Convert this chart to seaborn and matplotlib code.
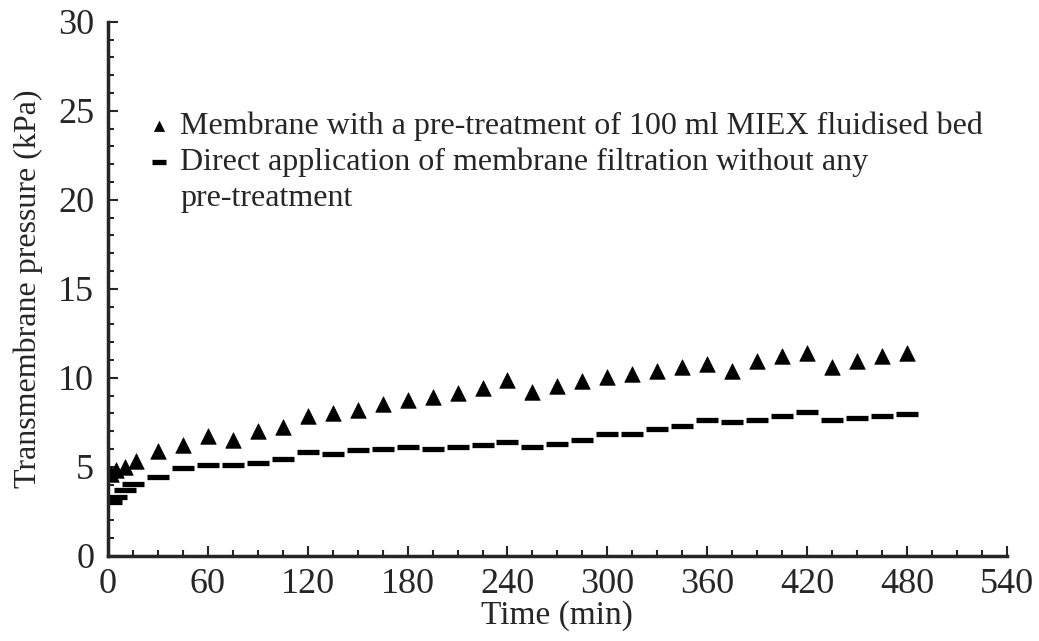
#!/usr/bin/env python3
"""Transmembrane pressure over time, with and without MIEX pre-treatment."""

import matplotlib
matplotlib.use("Agg")
import matplotlib.pyplot as plt
import pandas as pd
import seaborn as sns
from matplotlib.lines import Line2D
from matplotlib.ticker import MultipleLocator

# Membrane with MIEX fluidised bed pre-treatment (triangles)
miex_time = [2, 5, 10, 17, 30, 45, 60, 75, 90, 105, 120, 135, 150, 165, 180, 195,
             210, 225, 240, 255, 270, 285, 300, 315, 330, 345, 360, 375, 390, 405,
             420, 435, 450, 465, 480]
miex_tmp = [4.6, 4.8, 5.0, 5.3, 5.9, 6.2, 6.7, 6.5, 7.0, 7.25, 7.85, 8.0, 8.2, 8.5,
            8.75, 8.9, 9.15, 9.4, 9.9, 9.2, 9.55, 9.8, 10.05, 10.2, 10.4, 10.6, 10.8,
            10.4, 10.95, 11.2, 11.4, 10.6, 10.95, 11.2, 11.4]

# Direct membrane filtration, no pre-treatment (dashes)
direct_time = [2, 5, 10, 15, 30, 45, 60, 75, 90, 105, 120, 135, 150, 165, 180, 195,
               210, 225, 240, 255, 270, 285, 300, 315, 330, 345, 360, 375, 390, 405,
               420, 435, 450, 465, 480]
direct_tmp = [3.0, 3.3, 3.7, 4.05, 4.4, 4.95, 5.1, 5.1, 5.2, 5.45, 5.85, 5.7, 5.95,
              6.0, 6.1, 6.0, 6.1, 6.2, 6.4, 6.1, 6.3, 6.5, 6.85, 6.85, 7.1, 7.3, 7.65,
              7.5, 7.65, 7.85, 8.1, 7.65, 7.75, 7.85, 7.95]

LABEL_MIEX = "Membrane with a pre-treatment of 100 ml MIEX fluidised bed"
LABEL_DIRECT = "Direct application of membrane filtration without any"
LABEL_DIRECT_CONT = "pre-treatment"


def main():
    miex = pd.DataFrame({"time": miex_time, "tmp": miex_tmp})
    direct = pd.DataFrame({"time": direct_time, "tmp": direct_tmp})

    sns.set_style("ticks")
    plt.rcParams["font.family"] = ["Liberation Serif", "DejaVu Serif"]

    fig = plt.figure(figsize=(10.39, 6.41), dpi=100)
    ax = fig.add_axes([0.104, 0.133, 0.865, 0.833])

    sns.scatterplot(data=miex, x="time", y="tmp", ax=ax, marker="^", s=125,
                    color="black", edgecolor="black", linewidth=0.5, label=LABEL_MIEX)
    sns.scatterplot(data=direct, x="time", y="tmp", ax=ax, marker="_", s=240,
                    color="black", linewidth=3.8, label=LABEL_DIRECT)

    ax.set_xlim(0, 540)
    ax.set_ylim(0, 30)
    ax.xaxis.set_major_locator(MultipleLocator(60))
    ax.xaxis.set_minor_locator(MultipleLocator(15))
    ax.yaxis.set_major_locator(MultipleLocator(5))
    ax.yaxis.set_minor_locator(MultipleLocator(1))
    ax.tick_params(which="both", direction="in", width=1.5, labelsize=26)
    ax.tick_params(axis="y", pad=10)
    ax.tick_params(axis="x", pad=9)
    ax.tick_params(which="major", length=7)
    ax.tick_params(which="minor", length=4)

    sns.despine(ax=ax)
    for side in ("left", "bottom"):
        ax.spines[side].set_linewidth(2.5)

    ax.set_xlabel("Time (min)", fontsize=24, labelpad=-1)
    ax.set_ylabel("Transmembrane pressure (kPa)", fontsize=23, labelpad=11)

    handles, labels = ax.get_legend_handles_labels()
    handles.append(Line2D([], [], linestyle="none", marker=None))
    labels.append(LABEL_DIRECT_CONT)
    ax.legend(handles, labels, loc="upper left", bbox_to_anchor=(0.025, 0.855),
              frameon=False, fontsize=23, markerscale=0.65, handletextpad=0.15,
              handlelength=1.0, labelspacing=0.2, borderaxespad=0)

    fig.savefig("out.png", dpi=100)


if __name__ == "__main__":
    main()
